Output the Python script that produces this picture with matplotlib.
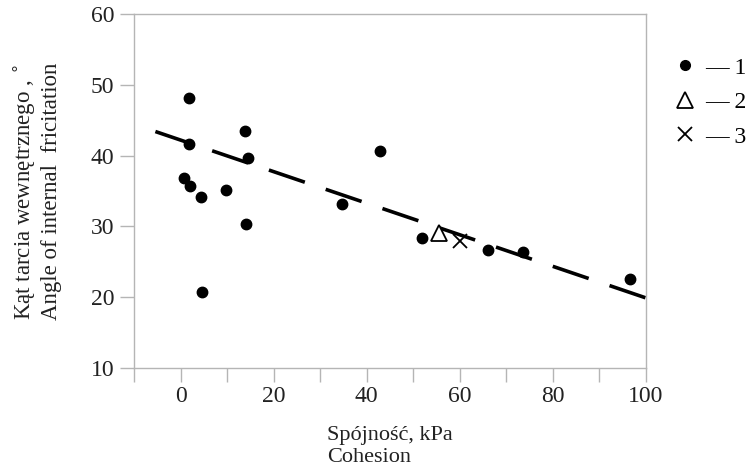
import numpy as np
import matplotlib
matplotlib.use("Agg")
import matplotlib.pyplot as plt
from matplotlib.lines import Line2D

# group 1 (filled circles)
C1_X = [1.9, 1.9, 13.9, 14.6, 0.8, 2.1, 4.3, 9.8, 14.0, 4.7, 42.8, 34.8, 51.8, 66.1, 73.5, 96.5]
C1_Y = [48.2, 41.6, 43.5, 39.7, 36.9, 35.7, 34.1, 35.1, 30.4, 20.8, 40.6, 33.2, 28.3, 26.6, 26.4, 22.6]
# group 2 (triangle) and group 3 (cross)
C2_X, C2_Y = [55.5], [29.0]
C3_X, C3_Y = [60.0], [28.0]
# trend line endpoints
TREND_X = [-5.4, 100]
TREND_Y = [43.4, 19.9]

LEG_LABELS = ["— 1", "— 2", "— 3"]

plt.rcParams["font.family"] = ["Liberation Serif", "DejaVu Serif"]
GRAY = "#b5b5b5"
TXT = "#222222"

fig = plt.figure(figsize=(7.51, 4.75), dpi=100)
ax = fig.add_axes([0.1784, 0.2253, 0.6816, 0.7452])

ax.plot(TREND_X, TREND_Y, color="black", lw=2.6, dashes=(10.5, 6.1),
        solid_capstyle="butt", dash_capstyle="butt", zorder=2)
ax.plot(C1_X, C1_Y, "o", color="black", ms=7.5, ls="none", zorder=3)
ax.plot(C2_X, C2_Y, "^", mfc="white", mec="black", mew=1.3, ms=11, ls="none", zorder=3)
ax.plot(C3_X, C3_Y, "x", color="black", mew=1.3, ms=10, ls="none", zorder=3)

ax.set_xlim(-10, 100)
ax.set_ylim(10, 60)
ax.set_xticks(np.arange(-10, 101, 10))
ax.set_xticklabels(["" if (t % 20 or t < 0) else str(t) for t in range(-10, 101, 10)])
ax.set_yticks(np.arange(10, 61, 10))

for s in ax.spines.values():
    s.set_color(GRAY)
    s.set_linewidth(1)
ax.tick_params(axis="both", colors=GRAY, labelcolor=TXT, labelsize=17,
               length=10, width=1)
ax.tick_params(axis="x", pad=3)
ax.tick_params(axis="y", pad=4)

ax.set_xlabel("Spójność, kPa\nCohesion", fontsize=16, color=TXT,
              multialignment="left", labelpad=14, linespacing=1.15)
ax.set_ylabel("Kąt tarcia wewnętrznego , $^{\\circ}$\nAngle of internal  fricitation",
              fontsize=16.5, color=TXT, multialignment="left", labelpad=21,
              linespacing=1.2)

handles = [
    Line2D([], [], marker="o", color="black", ls="none", ms=7),
    Line2D([], [], marker="^", mfc="white", mec="black", mew=1.3, ls="none", ms=11),
    Line2D([], [], marker="x", color="black", mew=1.3, ls="none", ms=10),
]
fig.legend(handles, LEG_LABELS, loc="upper left", bbox_to_anchor=(0.899, 0.88),
           frameon=False, fontsize=17, handlelength=0.8, handletextpad=0.45,
           labelspacing=0.55, borderaxespad=0, borderpad=0)

fig.savefig("out.png", dpi=100)
